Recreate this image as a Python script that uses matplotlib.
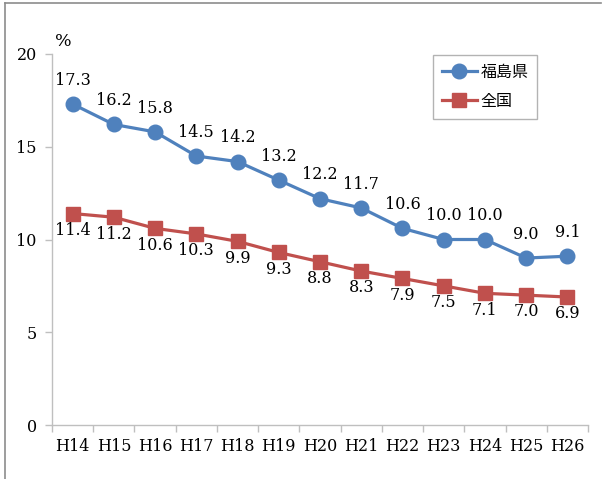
import matplotlib.pyplot as plt
from matplotlib.lines import Line2D
import numpy as np

# Years (Heisei) and rates (%)
years = ["H14", "H15", "H16", "H17", "H18", "H19", "H20",
         "H21", "H22", "H23", "H24", "H25", "H26"]
fukushima = [17.3, 16.2, 15.8, 14.5, 14.2, 13.2, 12.2, 11.7, 10.6, 10.0, 10.0, 9.0, 9.1]
zenkoku = [11.4, 11.2, 10.6, 10.3, 9.9, 9.3, 8.8, 8.3, 7.9, 7.5, 7.1, 7.0, 6.9]

blue = "#4F81BD"
red = "#C0504D"
axis_gray = "#BFBFBF"
num_font = "DejaVu Serif"
jp_font = ["Noto Sans CJK JP", "DejaVu Sans"]
fs = 11.5

fig = plt.figure(figsize=(6.07, 4.79), dpi=100)
ax = fig.add_axes([0.0857, 0.1127, 0.8830, 0.7746])

x = np.arange(len(years))
ax.plot(x, fukushima, color=blue, lw=2.3, marker="o", ms=10.5, label="福島県")
ax.plot(x, zenkoku, color=red, lw=2.3, marker="s", ms=10, label="全国")

for xi, v in zip(x, fukushima):
    ax.annotate(f"{v:.1f}", (xi, v), xytext=(0, 11), textcoords="offset points",
                ha="center", va="bottom", fontsize=fs, family=num_font)
for xi, v in zip(x, zenkoku):
    ax.annotate(f"{v:.1f}", (xi, v), xytext=(0, -6), textcoords="offset points",
                ha="center", va="top", fontsize=fs, family=num_font)

ax.set_xlim(-0.5, len(years) - 0.5)
ax.set_ylim(0, 20)
ax.set_yticks([0, 5, 10, 15, 20])
ax.set_xticks(x)
ax.set_xticklabels(years, family=num_font, fontsize=fs)
ax.set_xticks(np.arange(-0.5, len(years)), minor=True)
ax.tick_params(axis="x", which="major", length=0, pad=9)
ax.tick_params(axis="x", which="minor", length=5, color=axis_gray, width=1)
ax.tick_params(axis="y", length=5, color=axis_gray, width=1, pad=6)
for lab in ax.get_yticklabels():
    lab.set_family(num_font)
    lab.set_fontsize(fs)

for s in ["top", "right"]:
    ax.spines[s].set_visible(False)
for s in ["left", "bottom"]:
    ax.spines[s].set_color(axis_gray)
    ax.spines[s].set_linewidth(1)

ax.text(0.005, 1.01, "%", transform=ax.transAxes, ha="left", va="bottom",
        fontsize=12.5, family=num_font)

leg = ax.legend(loc="upper left", bbox_to_anchor=(0.711, 0.997), prop={"family": jp_font, "size": 11.5},
                frameon=True, fancybox=False, edgecolor="#A0A0A0", handlelength=2.2,
                borderpad=0.55, labelspacing=0.75, handletextpad=0.2, borderaxespad=0)
leg.get_frame().set_linewidth(1)

# outer frame (left and top edges)
fig.add_artist(Line2D([0.008, 0.008], [0.0, 0.994], color="#8C8C8C", lw=1.2))
fig.add_artist(Line2D([0.008, 0.99], [0.994, 0.994], color="#8C8C8C", lw=1.2))

fig.savefig("out.png", dpi=100)
